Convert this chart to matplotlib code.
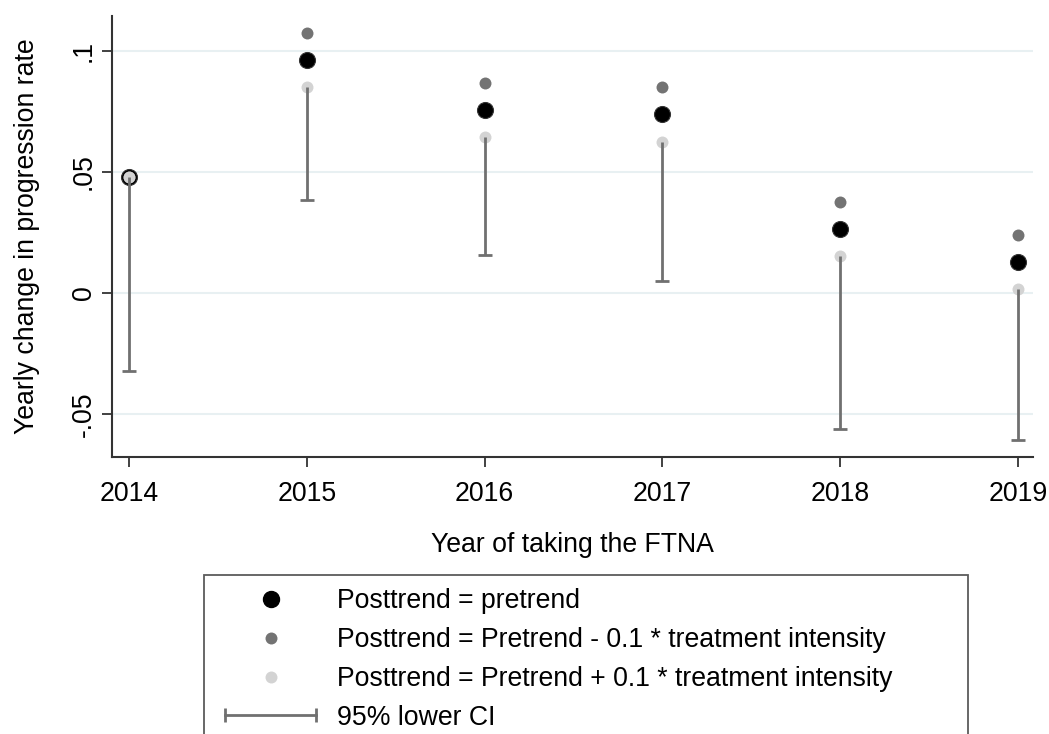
import matplotlib.pyplot as plt
from matplotlib.lines import Line2D
from matplotlib.legend_handler import HandlerLine2D

plt.rcParams['font.family'] = ['Liberation Sans', 'DejaVu Sans']

years = [2014, 2015, 2016, 2017, 2018, 2019]
# posttrend = pretrend
base = [0.0479, 0.0963, 0.0756, 0.0740, 0.0264, 0.0128]
# pretrend - 0.1 * treatment intensity
minus = [0.0479, 0.1074, 0.0868, 0.0851, 0.0376, 0.0240]
# pretrend + 0.1 * treatment intensity
plus = [0.0479, 0.0851, 0.0645, 0.0624, 0.0153, 0.0017]
# 95% lower CI
lower_ci = [-0.0322, 0.0384, 0.0157, 0.0050, -0.0562, -0.0607]

yticks = [-0.05, 0, 0.05, 0.1]
ytick_labels = ['-.05', '0', '.05', '.1']

dark = '#737373'
light = '#d3d3d3'
ci_col = '#707070'
fs = 19.2

fig = plt.figure(figsize=(10.49, 7.34), dpi=100)
ax = fig.add_axes([112/1049, 1-457/734, (1033-112)/1049, (457-16)/734])

for y in yticks:
    ax.axhline(y, color='#e8f0f2', lw=1.5, zorder=0)

ax.plot(years, base, 'o', color='black', ms=11.5, zorder=3, mec='#333333', mew=0.8)
ax.plot(years, minus, 'o', color=dark, ms=8.6, mew=0, zorder=3)
ax.plot(years, plus, 'o', color=light, ms=8.6, mew=0, zorder=4)
ax.vlines(years, lower_ci, plus, color=ci_col, lw=2, zorder=5)
ax.plot(years, lower_ci, '_', color=ci_col, ms=10, mew=2, zorder=5)

ax.set_xlim(2013.904, 2019.084)
ax.set_ylim(-0.0678, 0.1145)
ax.set_xticks(years)
ax.set_yticks(yticks)
ax.set_yticklabels(ytick_labels, rotation=90, va='center')
ax.tick_params(labelsize=fs, length=7, width=1.3, color='#333333')
ax.tick_params(axis='y', pad=4)
ax.tick_params(axis='x', pad=10)
for s in ['top', 'right']:
    ax.spines[s].set_visible(False)
for s in ['left', 'bottom']:
    ax.spines[s].set_linewidth(1.5)
    ax.spines[s].set_color('#333333')

ax.set_ylabel('Yearly change in progression rate', fontsize=fs, labelpad=22)
ax.set_xlabel('Year of taking the FTNA', fontsize=fs, labelpad=18)

h1 = Line2D([], [], ls='none', marker='o', color='black', ms=11.5)
h2 = Line2D([], [], ls='none', marker='o', color=dark, ms=8.6, mew=0)
h3 = Line2D([], [], ls='none', marker='o', color=light, ms=8.6, mew=0)
h4 = Line2D([], [], color=ci_col, lw=2, marker='|', ms=10, mew=2)
leg = fig.legend([h1, h2, h3, h4],
                 ['Posttrend = pretrend',
                  'Posttrend = Pretrend - 0.1 * treatment intensity',
                  'Posttrend = Pretrend + 0.1 * treatment intensity',
                  '95% lower CI'],
                 loc='upper left',
                 bbox_to_anchor=(204/1049, 0, (968-204)/1049, 1-575/734),
                 mode='expand', fontsize=fs, frameon=True, fancybox=False,
                 edgecolor='#333333', borderaxespad=0, borderpad=0.5,
                 handlelength=4.0, handletextpad=0.5, labelspacing=0.48,
                 handler_map={h4: HandlerLine2D(numpoints=2)})
leg.get_frame().set_linewidth(1.3)

fig.savefig('out.png', dpi=100)
